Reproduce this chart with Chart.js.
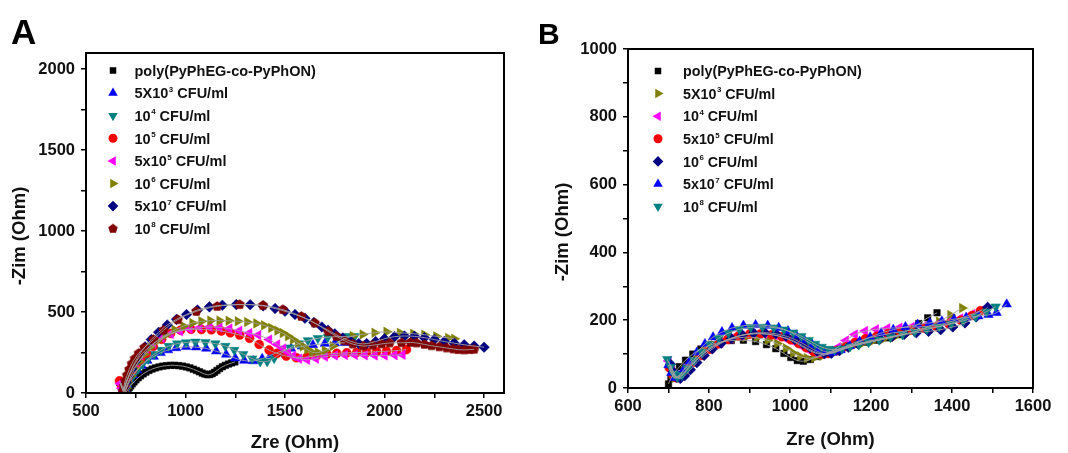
<!DOCTYPE html>
<html>
<head>
<meta charset="utf-8">
<script src="https://cdn.jsdelivr.net/npm/chart.js@4.4.0/dist/chart.umd.min.js"></script>
<style>
  html, body { margin: 0; padding: 0; background: #fff; }
  #wrap { position: relative; width: 1068px; height: 453px; }
  .panel { position: absolute; top: 0; width: 534px; height: 453px; }
</style>
</head>
<body>
<div id="wrap">
  <div class="panel" style="left:0"><canvas id="chartA" width="534" height="453"></canvas></div>
  <div class="panel" style="left:534px"><canvas id="chartB" width="534" height="453"></canvas></div>
</div>
<script>
const FONT = "'Liberation Sans', Arial, Helvetica, sans-serif";
Chart.defaults.font.family = FONT;

// ---- panel A : [Zre, -Zim] in Ohm ----
const A_poly = [[700,3],[705,12],[711,22],[717,33],[724,44],[732,56],[741,68],[751,81],[762,94],[774,106],[787,118],[801,129],[816,139],[832,148],[849,155],[867,161],[886,166],[905,169],[925,171],[945,171],[965,169],[985,166],[1004,161],[1022,155],[1039,147],[1055,139],[1070,131],[1084,123],[1097,117],[1110,113],[1122,114],[1134,119],[1146,128],[1158,139],[1171,151],[1185,162],[1200,171],[1216,179],[1232,186],[1248,192]];
const A_5e3 = [[676,62],[684,35],[692,12],[699,25],[707,50],[720,80],[737,110],[757,140],[780,170],[808,200],[840,225],[875,248],[912,265],[953,278],[1003,285],[1053,283],[1104,275],[1154,258],[1204,238],[1250,215],[1295,200],[1340,198],[1385,212],[1430,235],[1480,258],[1530,275],[1585,288],[1640,297],[1700,305],[1750,308],[1800,310]];
const A_1e4 = [[695,5],[702,25],[712,52],[725,85],[742,118],[762,150],[785,180],[812,210],[843,240],[877,265],[915,290],[958,305],[1003,312],[1050,316],[1100,313],[1150,305],[1200,290],[1245,265],[1290,240],[1335,212],[1375,195],[1410,195],[1445,215],[1485,250],[1525,280],[1570,305],[1615,325],[1665,338],[1715,345],[1765,348],[1815,350],[1850,350]];
const A_1e5 = [[668,75],[678,45],[688,15],[696,40],[706,75],[718,108],[733,140],[752,172],[775,208],[803,245],[838,288],[880,332],[925,368],[975,388],[1028,393],[1080,392],[1130,390],[1180,383],[1225,372],[1272,358],[1322,338],[1370,300],[1420,265],[1460,245],[1506,228],[1557,218],[1610,222],[1660,232],[1710,240],[1760,245],[1810,248],[1860,250],[1910,252],[1960,255],[2010,258],[2060,262],[2110,268]];
const A_5e5 = [[672,58],[680,30],[688,12],[695,40],[704,75],[716,110],[731,150],[750,190],[773,230],[802,268],[838,305],[880,340],[925,365],[972,382],[1020,395],[1070,403],[1120,408],[1170,405],[1220,398],[1270,385],[1320,370],[1365,358],[1420,330],[1460,300],[1490,275],[1515,250],[1540,228],[1570,212],[1610,205],[1655,212],[1700,225],[1750,232],[1800,235],[1850,235],[1900,233],[1950,232],[2000,232],[2050,234],[2090,236]];
const A_1e6 = [[695,5],[702,30],[712,65],[726,105],[744,150],[766,195],[792,240],[822,283],[858,322],[900,358],[945,390],[990,413],[1035,432],[1080,443],[1125,447],[1171,447],[1217,446],[1263,443],[1310,438],[1356,430],[1395,418],[1431,402],[1462,385],[1489,370],[1515,350],[1540,330],[1565,308],[1590,288],[1612,268],[1635,252],[1665,250],[1700,262],[1740,290],[1790,330],[1840,352],[1890,362],[1950,372],[2010,378],[2077,372],[2144,366],[2200,360],[2260,350],[2320,340],[2350,335]];
const A_5e7 = [[688,5],[694,30],[703,65],[715,105],[730,150],[748,195],[770,240],[797,285],[828,330],[865,375],[908,420],[955,455],[1005,485],[1060,512],[1120,532],[1185,542],[1255,546],[1325,545],[1390,538],[1450,522],[1500,505],[1550,485],[1600,462],[1645,435],[1685,408],[1716,388],[1750,365],[1790,340],[1830,320],[1870,305],[1910,305],[1955,318],[2000,335],[2050,348],[2100,352],[2150,350],[2200,342],[2250,330],[2300,318],[2350,308],[2400,298],[2450,290],[2500,283]];
const A_1e8 = [[685,10],[690,40],[697,75],[706,110],[717,145],[730,180],[745,212],[765,245],[793,280],[839,330],[889,387],[961,453],[1054,504],[1159,535],[1272,546],[1389,541],[1489,515],[1582,473],[1649,432],[1716,381],[1758,350],[1800,322],[1840,302],[1892,290],[1940,295],[1985,303],[2026,309],[2085,310],[2130,312],[2161,309],[2200,300],[2236,292],[2275,285],[2312,278],[2345,272],[2370,268],[2400,266],[2429,268],[2450,270]];
const A_labels = [['poly(PyPhEG-co-PyPhON)'], ['5X10','3',' CFU/ml'], ['10','4',' CFU/ml'], ['10','5',' CFU/ml'], ['5x10','5',' CFU/ml'], ['10','6',' CFU/ml'], ['5x10','7',' CFU/ml'], ['10','8',' CFU/ml']];

// ---- panel B ----
const B_poly = [[700,12],[706,28],[715,45],[727,63],[742,82],[760,100],[780,115],[803,127],[828,135],[855,140],[885,141],[915,137],[942,128],[965,116],[985,102],[1002,90],[1018,81],[1033,79],[1050,84],[1068,93],[1090,103],[1112,112],[1136,121],[1162,129],[1188,135],[1215,141],[1242,148],[1268,157],[1295,172],[1318,190],[1340,207],[1363,222]];
const B_5e3 = [[703,62],[708,42],[715,30],[725,35],[738,52],[753,72],[770,92],[790,110],[812,126],[836,138],[862,146],[890,150],[918,148],[945,141],[968,131],[990,117],[1008,103],[1025,93],[1042,88],[1060,89],[1080,95],[1102,103],[1125,112],[1150,121],[1175,129],[1200,136],[1228,143],[1256,150],[1284,158],[1312,167],[1340,180],[1368,196],[1396,215],[1425,236]];
const B_1e4 = [[700,80],[708,55],[716,35],[726,30],[738,42],[752,60],[768,80],[786,100],[806,118],[828,133],[853,146],[880,155],[908,160],[936,160],[962,156],[986,148],[1008,137],[1028,124],[1046,112],[1063,103],[1080,100],[1098,106],[1118,120],[1138,140],[1160,158],[1185,168],[1212,173],[1240,176],[1270,178],[1300,180],[1330,181],[1360,185],[1390,193],[1420,205],[1450,218],[1475,230]];
const B_5e5 = [[702,60],[710,40],[720,30],[732,38],[746,56],[762,76],[780,96],[800,114],[822,130],[846,143],[872,153],[900,159],[928,160],[955,157],[980,151],[1002,142],[1022,131],[1040,119],[1058,108],[1076,101],[1094,102],[1114,110],[1136,122],[1160,134],[1186,145],[1214,153],[1242,160],[1272,166],[1302,171],[1332,176],[1362,181],[1392,189],[1422,200],[1450,214],[1470,228]];
const B_1e6 = [[705,70],[712,48],[720,32],[729,28],[740,36],[754,54],[770,75],[788,96],[808,115],[830,132],[855,146],[882,156],[910,162],[938,163],[965,160],[990,153],[1012,143],[1032,131],[1050,119],[1068,108],[1085,101],[1102,102],[1122,110],[1144,120],[1168,130],[1194,138],[1222,145],[1252,152],[1282,158],[1312,163],[1342,167],[1372,172],[1402,180],[1432,192],[1460,210],[1488,238]];
const B_5e7 = [[700,68],[707,45],[715,30],[725,35],[738,55],[752,78],[770,105],[790,130],[810,150],[832,165],[857,177],[885,184],[915,186],[945,184],[972,178],[995,168],[1015,156],[1035,142],[1055,128],[1072,115],[1088,107],[1105,105],[1125,112],[1148,124],[1172,137],[1198,150],[1225,162],[1255,172],[1285,180],[1315,187],[1345,192],[1375,197],[1405,203],[1435,208],[1465,212],[1490,216],[1510,222],[1535,247]];
const B_1e8 = [[697,85],[705,62],[713,42],[722,32],[733,38],[747,58],[763,82],[782,106],[802,128],[824,147],[848,162],[875,173],[903,179],[932,180],[960,178],[985,172],[1008,163],[1028,153],[1046,141],[1062,130],[1078,121],[1094,115],[1110,113],[1128,116],[1148,122],[1170,128],[1194,135],[1220,142],[1248,150],[1278,158],[1308,166],[1338,173],[1368,181],[1398,189],[1428,198],[1458,210],[1485,225],[1508,240]];
const B_labels = [['poly(PyPhEG-co-PyPhON)'], ['5X10','3',' CFU/ml'], ['10','4',' CFU/ml'], ['5x10','5',' CFU/ml'], ['10','6',' CFU/ml'], ['5x10','7',' CFU/ml'], ['10','8',' CFU/ml']];

const COL = {
  black: '#000000', blue: '#0000ff', teal: '#008080', red: '#ff0000',
  magenta: '#ff00ff', olive: '#808000', navy: '#000080', maroon: '#800000'
};

// Origin-like pentagon marker (Chart.js has none)
function makePentagon(color, r) {
  const s = Math.ceil(r * 2 + 2);
  const c = document.createElement('canvas');
  c.width = s; c.height = s;
  const g = c.getContext('2d');
  g.fillStyle = color;
  g.beginPath();
  for (let i = 0; i < 5; i++) {
    const a = -Math.PI / 2 + i * 2 * Math.PI / 5;
    const px = s / 2 + r * Math.cos(a), py = s / 2 + r * Math.sin(a);
    if (i) g.lineTo(px, py); else g.moveTo(px, py);
  }
  g.closePath();
  g.fill();
  return c;
}
const pentData = makePentagon(COL.maroon, 5.3);
const pentLegend = makePentagon(COL.maroon, 5);

const MARK = {
  square:  { style: 'rect',     rot: 0,   r: 4.6 },
  up:      { style: 'triangle', rot: 0,   r: 5.5 },
  down:    { style: 'triangle', rot: 180, r: 5.5 },
  left:    { style: 'triangle', rot: -90, r: 5.5 },
  right:   { style: 'triangle', rot: 90,  r: 5.5 },
  circle:  { style: 'circle',   rot: 0,   r: 4.5 },
  diamond: { style: 'rectRot',  rot: 0,   r: 5.3 },
  pent:    { style: pentData,   rot: 0,   r: 5.3 }
};

const A_series = [
  { data: A_poly, color: COL.black,   mark: 'square' },
  { data: A_5e3,  color: COL.blue,    mark: 'up' },
  { data: A_1e4,  color: COL.teal,    mark: 'down' },
  { data: A_1e5,  color: COL.red,     mark: 'circle' },
  { data: A_5e5,  color: COL.magenta, mark: 'left' },
  { data: A_1e6,  color: COL.olive,   mark: 'right' },
  { data: A_5e7,  color: COL.navy,    mark: 'diamond' },
  { data: A_1e8,  color: COL.maroon,  mark: 'pent' }
];
const B_series = [
  { data: B_poly, color: COL.black,   mark: 'square' },
  { data: B_5e3,  color: COL.olive,   mark: 'right' },
  { data: B_1e4,  color: COL.magenta, mark: 'left' },
  { data: B_5e5,  color: COL.red,     mark: 'circle' },
  { data: B_1e6,  color: COL.navy,    mark: 'diamond' },
  { data: B_5e7,  color: COL.blue,    mark: 'up' },
  { data: B_1e8,  color: COL.teal,    mark: 'down' }
];

function toXY(pairs) {
  return pairs.map(p => ({ x: p[0], y: p[1] }));
}

function buildDatasets(series) {
  const ds = [];
  series.forEach((s, i) => {
    const m = MARK[s.mark];
    ds.push({
      data: toXY(s.data),
      showLine: false,
      pointStyle: m.style,
      pointRotation: m.rot,
      pointRadius: m.r,
      pointBackgroundColor: s.color,
      pointBorderColor: s.color,
      pointBorderWidth: 0.5,
      order: 100 - i   // later series painted over earlier ones
    });
  });
  // grey fitted curves on top of the markers
  series.forEach(s => {
    ds.push({
      data: toXY(s.data),
      showLine: true,
      borderColor: 'rgba(160,160,160,0.9)',
      borderWidth: 1,
      pointRadius: 0,
      tension: 0.35,
      fill: false,
      order: 1
    });
  });
  return ds;
}

// simple marker painter for the legend
function drawMarker(ctx, m, color, x, y, r) {
  ctx.save();
  ctx.fillStyle = color;
  ctx.translate(x, y);
  ctx.rotate(m.rot * Math.PI / 180);
  ctx.beginPath();
  if (m.style === 'rect') {
    const h = r * Math.SQRT1_2;
    ctx.rect(-h, -h, 2 * h, 2 * h);
  } else if (m.style === 'triangle') {
    for (let i = 0; i < 3; i++) {
      const a = -Math.PI / 2 + i * 2 * Math.PI / 3;
      const px = r * Math.cos(a), py = r * Math.sin(a);
      if (i) ctx.lineTo(px, py); else ctx.moveTo(px, py);
    }
    ctx.closePath();
  } else if (m.style === 'circle') {
    ctx.arc(0, 0, r, 0, Math.PI * 2);
  } else if (m.style === 'rectRot') {
    ctx.moveTo(0, -r); ctx.lineTo(r, 0); ctx.lineTo(0, r); ctx.lineTo(-r, 0);
    ctx.closePath();
  } else {
    ctx.drawImage(pentLegend, -pentLegend.width / 2, -pentLegend.height / 2);
    ctx.restore();
    return;
  }
  ctx.fill();
  ctx.restore();
}

function drawLabel(ctx, parts, x, y, fs) {
  ctx.textAlign = 'left';
  ctx.textBaseline = 'alphabetic';
  ctx.fillStyle = '#111';
  const base = y + fs * 0.36;
  ctx.font = `bold ${fs}px ${FONT}`;
  if (parts.length === 1) { ctx.fillText(parts[0], x, base); return; }
  let cx = x;
  ctx.fillText(parts[0], cx, base);
  cx += ctx.measureText(parts[0]).width + 0.5;
  ctx.font = `bold ${fs * 0.55}px ${FONT}`;
  ctx.fillText(parts[1], cx, base - fs * 0.45);
  cx += ctx.measureText(parts[1]).width;
  ctx.font = `bold ${fs}px ${FONT}`;
  ctx.fillText(parts[2], cx, base);
}

function decor(p) {
  return {
    id: 'decor',
    afterDraw(chart) {
      const ctx = chart.ctx, a = chart.chartArea;
      ctx.save();
      ctx.strokeStyle = '#000';
      ctx.lineWidth = 2;
      ctx.strokeRect(a.left, a.top, a.right - a.left, a.bottom - a.top);

      ctx.fillStyle = '#000';
      ctx.textAlign = 'left';
      ctx.textBaseline = 'alphabetic';
      ctx.font = `bold ${p.letterSize}px ${FONT}`;
      ctx.fillText(p.letter, p.letterX, p.letterY);

      ctx.fillStyle = '#111';
      ctx.font = `bold 18.5px ${FONT}`;
      ctx.textAlign = 'center';
      ctx.textBaseline = 'middle';
      ctx.fillText('Zre (Ohm)', p.xTitle[0], p.xTitle[1]);
      ctx.save();
      ctx.translate(p.yTitle[0], p.yTitle[1]);
      ctx.rotate(-Math.PI / 2);
      ctx.fillText('-Zim (Ohm)', 0, 0);
      ctx.restore();

      p.series.forEach((s, i) => {
        const y = p.legY + i * p.legStep;
        const m = MARK[s.mark];
        drawMarker(ctx, m, s.color, p.legMarkX, y, m.r);
        drawLabel(ctx, p.labels[i], p.legTextX, y, p.legFont);
      });
      ctx.restore();
    }
  };
}

function makeChart(id, series, labels, c) {
  const tickFont = { family: FONT, size: 16.5, weight: 'bold' };
  return new Chart(document.getElementById(id), {
    type: 'scatter',
    data: { datasets: buildDatasets(series) },
    options: {
      responsive: false,
      animation: false,
      devicePixelRatio: 1,
      layout: { padding: c.padding },
      plugins: { legend: { display: false }, tooltip: { enabled: false } },
      scales: {
        x: {
          type: 'linear', position: 'bottom', min: c.xMin, max: c.xMax,
          afterFit: s => { s.height = c.xHeight; },
          ticks: {
            stepSize: c.xStep, includeBounds: false, autoSkip: false, maxRotation: 0,
            padding: 4, color: '#111', font: tickFont,
            callback: v => (v % c.xMajor === 0 ? String(v) : '')
          },
          grid: { drawOnChartArea: false, drawTicks: true, tickLength: 5, color: '#000', lineWidth: 1.5 },
          border: { display: true, color: '#000', width: 2 }
        },
        y: {
          type: 'linear', position: 'left', min: c.yMin, max: c.yMax,
          afterFit: s => { s.width = c.yWidth; },
          ticks: {
            stepSize: c.yStep, includeBounds: false, autoSkip: false,
            padding: 6, color: '#111', font: tickFont,
            callback: v => (v % c.yMajor === 0 ? String(v) : '')
          },
          grid: { drawOnChartArea: false, drawTicks: true, tickLength: 5, color: '#000', lineWidth: 1.5 },
          border: { display: true, color: '#000', width: 2 }
        }
      }
    },
    plugins: [decor(Object.assign({ series, labels }, c.decor))]
  });
}

makeChart('chartA', A_series, A_labels, {
  padding: { top: 53, right: 30, left: 0, bottom: 0 },
  xMin: 500, xMax: 2600, xStep: 250, xMajor: 500, xHeight: 60,
  yMin: 0, yMax: 2100, yStep: 250, yMajor: 500, yWidth: 86,
  decor: {
    letter: 'A', letterX: 11, letterY: 43.5, letterSize: 35,
    xTitle: [295, 443], yTitle: [19.5, 236],
    legMarkX: 113, legTextX: 134.5, legY: 70.5, legStep: 22.6, legFont: 14.5
  }
});

makeChart('chartB', B_series, B_labels, {
  padding: { top: 49, right: 35, left: 0, bottom: 0 },
  xMin: 600, xMax: 1600, xStep: 100, xMajor: 200, xHeight: 65,
  yMin: 0, yMax: 1000, yStep: 100, yMajor: 200, yWidth: 94,
  decor: {
    letter: 'B', letterX: 4, letterY: 43.5, letterSize: 30,
    xTitle: [296.5, 440], yTitle: [29, 232],
    legMarkX: 124, legTextX: 149, legY: 71, legStep: 22.6, legFont: 14.3
  }
});
</script>
</body>
</html>
